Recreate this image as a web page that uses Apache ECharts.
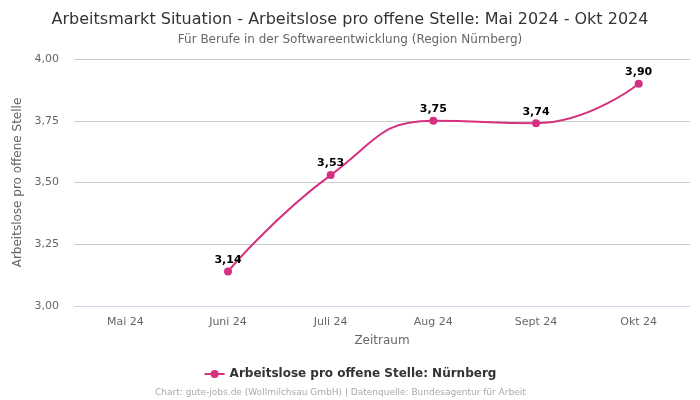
<!DOCTYPE html>
<html><head><meta charset="utf-8">
<script src="https://cdn.jsdelivr.net/npm/echarts@6/dist/echarts.min.js"></script>
<style>html,body{margin:0;padding:0;background:#fff}#c{width:700px;height:400px}</style>
</head><body><div id="c"></div>
<script>
const categories = ['Mai 24','Juni 24','Juli 24','Aug 24','Sept 24','Okt 24'];
const values = [null, 3.14, 3.53, 3.75, 3.74, 3.90];
const seriesName = 'Arbeitslose pro offene Stelle: Nürnberg';
const fmt = v => v.toFixed(2).replace('.', ',');
const chart = echarts.init(document.getElementById('c'));
chart.setOption({
  animation: false,
  textStyle: {fontFamily: 'DejaVu Sans'},
  title: [
    {text: 'Arbeitsmarkt Situation - Arbeitslose pro offene Stelle: Mai 2024 - Okt 2024', left: 'center', top: 7,
     textStyle: {fontSize: 16, fontWeight: 'normal', color: '#333', fontFamily: 'DejaVu Sans'}},
    {text: 'Für Berufe in der Softwareentwicklung (Region Nürnberg)', left: 'center', top: 29,
     textStyle: {fontSize: 12, fontWeight: 'normal', color: '#666', fontFamily: 'DejaVu Sans'}},
    {text: 'Chart: gute-jobs.de (Wollmilchsau GmbH) | Datenquelle: Bundesagentur für Arbeit', left: 150, top: 383,
     textStyle: {fontSize: 9, fontWeight: 'normal', color: '#aaa', fontFamily: 'DejaVu Sans'}}
  ],
  legend: {bottom: 15, left: 'center', itemWidth: 20, itemHeight: 10,
    textStyle: {fontSize: 12, fontWeight: 'bold', color: '#333'}, data: [seriesName]},
  grid: {left: 74, right: 10, top: 59, bottom: 94},
  xAxis: {type: 'category', data: categories, boundaryGap: true,
    name: 'Zeitraum', nameLocation: 'middle', nameGap: 29, nameTextStyle: {fontSize: 12, color: '#666'},
    axisLine: {show: true, lineStyle: {color: '#ccd6eb'}}, axisTick: {show: false},
    axisLabel: {fontSize: 11, color: '#666', margin: 11}},
  yAxis: {type: 'value', min: 3, max: 4, interval: 0.25,
    name: 'Arbeitslose pro offene Stelle', nameLocation: 'middle', nameGap: 45, nameTextStyle: {fontSize: 12, color: '#666'},
    axisLabel: {fontSize: 11, color: '#666', formatter: v => fmt(v), margin: 15},
    splitLine: {lineStyle: {color: '#ccc'}}},
  series: [{name: seriesName, type: 'line', data: values, smooth: 0.5, connectNulls: false,
    symbol: 'circle', symbolSize: 8,
    itemStyle: {color: '#d6317f'}, lineStyle: {width: 2, color: '#d6317f'},
    label: {show: true, position: 'top', fontSize: 11, fontWeight: 'bold', color: '#000', distance: 2,
      formatter: p => fmt(p.value)}}]
});
</script></body></html>
